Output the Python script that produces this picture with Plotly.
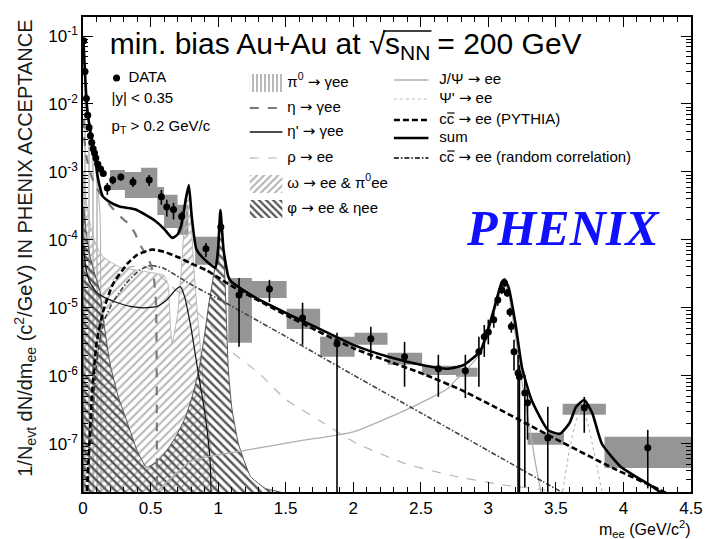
import plotly.graph_objects as go

# ---------------- measured dielectron yield (min. bias Au+Au) ----------------
data_m = [0.005, 0.015, 0.025, 0.035, 0.045, 0.055, 0.065, 0.075, 0.085, 0.095, 0.11, 0.13, 0.15,
          0.18, 0.22, 0.28, 0.37, 0.49, 0.58, 0.62, 0.67, 0.73, 0.91, 1.02,
          1.155, 1.38, 1.625, 1.88, 2.13, 2.38, 2.63, 2.83,
          2.93, 2.97, 3.00, 3.04, 3.07, 3.10, 3.12, 3.14, 3.16, 3.17, 3.19,
          3.22, 3.23, 3.27, 3.29, 3.44, 3.71, 4.18]
data_y = [0.085, 0.030, 0.012, 0.0068, 0.0045, 0.0034, 0.0027, 0.0022, 0.0019, 0.0016, 0.0013, 0.0011, 0.00095,
          5.8e-4, 7.6e-4, 8.4e-4, 7.1e-4, 7.6e-4, 4.3e-4, 3.05e-4, 2.8e-4, 2.2e-4, 7.4e-5, 1.55e-4,
          1.55e-5, 1.9e-5, 7.1e-6, 2.96e-6, 3.5e-6, 1.9e-6, 1.27e-6, 1.19e-6,
          2.25e-6, 3.75e-6, 4.4e-6, 6.7e-6, 1.3e-5, 1.84e-5, 2.33e-5, 1.66e-5, 8.7e-6, 5.3e-6, 2.25e-6,
          1.1e-6, 9.7e-7, 5.6e-7, 4.0e-7, 1.22e-7, 3.4e-7, 8.7e-8]
data_lo = [0.080, 0.028, 0.0112, 0.0064, 0.0042, 0.0032, 0.0025, 0.0020, 0.0017, 0.00145, 0.00118, 0.00098, 0.00085,
           4.6e-4, 6.6e-4, 7.4e-4, 6.0e-4, 6.2e-4, 3.3e-4, 2.2e-4, 2.0e-4, 1.7e-4, 5.6e-5, 1.35e-4,
           2.67e-6, 1.22e-5, 2.86e-6, 1e-9, 1.72e-6, 6.9e-7, 4.9e-7, 4.7e-7,
           6.9e-7, 1.9e-6, 2.9e-6, 5.1e-6, 1.07e-5, 1.6e-5, 2.05e-5, 1.45e-5, 7.4e-6, 4.3e-6, 1.2e-6,
           1e-9, 1e-9, 2.3e-8, 1.15e-7, 1e-9, 1.45e-7, 2.2e-8]
data_hi = [0.090, 0.032, 0.0128, 0.0072, 0.0048, 0.0036, 0.0029, 0.0024, 0.0021, 0.00175, 0.00142, 0.00122, 0.00105,
           6.9e-4, 8.6e-4, 9.5e-4, 8.4e-4, 9.0e-4, 5.4e-4, 3.9e-4, 3.5e-4, 2.6e-4, 9.0e-5, 1.75e-4,
           2.76e-5, 2.58e-5, 1.19e-5, 4.3e-6, 5.26e-6, 3.16e-6, 2.04e-6, 2.04e-6,
           3.75e-6, 5.6e-6, 6.7e-6, 8.5e-6, 1.55e-5, 2.1e-5, 2.6e-5, 1.9e-5, 1.0e-5, 6.3e-6, 3.4e-6,
           2.04e-6, 1.44e-6, 1.03e-6, 6.3e-7, 3.5e-7, 4.9e-7, 1.6e-7]

# systematic uncertainty boxes
sys_x0 = [0.20, 0.31, 0.43, 0.55, 0.60, 0.70, 0.83, 1.075, 1.25, 1.507, 1.755, 2.01, 2.254, 2.51, 2.76, 3.29, 3.55, 3.86]
sys_x1 = [0.31, 0.43, 0.55, 0.60, 0.70, 0.78, 1.01, 1.25, 1.507, 1.755, 2.01, 2.254, 2.51, 2.76, 2.92, 3.56, 3.87, 4.5]
sys_lo = [5.43e-4, 4.15e-4, 4.15e-4, 2.33e-4, 1.5e-4, 1.19e-4, 4.29e-5, 3.06e-6, 1.4e-5, 4.9e-6, 1.9e-6,
          2.86e-6, 1.45e-6, 1.03e-6, 9.7e-7, 9.7e-8, 2.67e-7, 4.4e-8]
sys_hi = [1.07e-3, 1.0e-3, 1.15e-3, 6.0e-4, 4.6e-4, 3.3e-4, 1.11e-4, 2.76e-5, 2.49e-5, 9.66e-6, 3.75e-6,
          4.29e-6, 2.18e-6, 1.40e-6, 1.31e-6, 1.45e-7, 3.87e-7, 1.27e-7]

# ---------------- hadronic cocktail components ----------------
pi0_m = [0.0, 0.005, 0.015, 0.025, 0.035, 0.05, 0.07, 0.09, 0.11, 0.125, 0.13, 0.135]
pi0_y = [0.09, 0.08, 0.028, 0.011, 0.006, 0.0035, 0.002, 0.0012, 6e-4, 2.5e-4, 1e-4, 1e-9]

eta_m = [0.005, 0.01, 0.03, 0.06, 0.1, 0.15, 0.22, 0.3, 0.34, 0.38, 0.43, 0.49, 0.52, 0.54, 0.547]
eta_y = [6e-3, 3e-3, 1.5e-3, 9e-4, 5.8e-4, 4.2e-4, 2.9e-4, 2e-4, 1.7e-4, 1.3e-4, 8e-5, 5e-5, 3.2e-5, 1.2e-5, 1e-9]

etap_m = [0.005, 0.02, 0.05, 0.1, 0.15, 0.25, 0.35, 0.45, 0.55, 0.62, 0.68, 0.72, 0.75, 0.8, 0.85, 0.9, 0.94, 0.958]
etap_y = [8e-5, 4e-5, 2.4e-5, 1.7e-5, 1.45e-5, 1.2e-5, 1.05e-5, 1.0e-5, 1.05e-5, 1.3e-5, 1.8e-5, 2.05e-5,
          1.5e-5, 5e-6, 1.2e-6, 3e-7, 6e-8, 1e-9]

rho_m = [0.15, 0.25, 0.35, 0.44, 0.55, 0.64, 0.74, 0.83, 0.98, 1.075, 1.3, 1.5, 1.75, 2.03, 2.4, 2.76, 3.1, 3.42]
rho_y = [1.5e-5, 3e-5, 4e-5, 4.2e-5, 3.2e-5, 2.2e-5, 1.5e-5, 9.3e-6, 4.6e-6, 2.5e-6, 1.1e-6, 4.5e-7, 2.2e-7,
         1.0e-7, 5e-8, 3.3e-8, 2.5e-8, 2.1e-8]

omega_m = [0.005, 0.01, 0.03, 0.06, 0.1, 0.15, 0.27, 0.47, 0.6, 0.63, 0.648, 0.66, 0.7, 0.724, 0.745, 0.76,
           0.775, 0.783, 0.79, 0.805, 0.82, 0.84, 0.87, 0.9, 0.95, 1.0]
omega_y = [1e-3, 6e-4, 3e-4, 1.5e-4, 8e-5, 5.6e-5, 4e-5, 3.4e-5, 3.0e-5, 2.2e-5, 5e-6, 3e-6, 8e-6, 3e-5, 1.2e-4,
           2.8e-4, 4.8e-4, 5.5e-4, 4e-4, 1.3e-4, 4e-5, 1.2e-5, 2.5e-6, 5e-7, 8e-8, 1.5e-8]

phi_m = [0.005, 0.02, 0.05, 0.09, 0.124, 0.16, 0.2, 0.26, 0.33, 0.4, 0.47, 0.55, 0.62, 0.69, 0.76, 0.82, 0.86,
         0.9, 0.93, 0.96, 0.99, 1.005, 1.017, 1.03, 1.045, 1.06, 1.075, 1.1, 1.15, 1.24, 1.35, 1.5, 1.6]
phi_y = [3e-4, 1.5e-4, 6e-5, 3e-5, 1.8e-5, 5e-6, 1.5e-6, 5e-7, 2e-7, 8e-8, 4.5e-8, 5.5e-8, 8e-8, 1.3e-7, 2.5e-7,
         6e-7, 1.3e-6, 4e-6, 1.1e-5, 2.5e-5, 6e-5, 1.4e-4, 2.4e-4, 1.5e-4, 5e-5, 8e-6, 1.3e-6, 3.5e-7, 1e-7,
         3.3e-8, 2.2e-8, 1.8e-8, 1e-9]

jpsi_m = [0.55, 0.8, 1.2, 1.6, 2.0, 2.4, 2.7, 2.76, 2.85, 2.95, 3.0, 3.05, 3.1, 3.12, 3.15, 3.2, 3.25, 3.3, 3.35, 3.4]
jpsi_y = [2e-8, 5.5e-8, 8e-8, 1.1e-7, 1.5e-7, 3.2e-7, 6.5e-7, 8.7e-7, 1.3e-6, 2.3e-6, 4.2e-6, 9.5e-6, 2.0e-5,
          2.2e-5, 1.6e-5, 4e-6, 8e-7, 2e-7, 5e-8, 1.5e-8]

psi2_m = [3.55, 3.6, 3.65, 3.69, 3.73, 3.78, 3.84]
psi2_y = [2e-8, 8e-8, 2.2e-7, 3.3e-7, 2.2e-7, 8e-8, 2e-8]

ccp_m = [0.03, 0.066, 0.1, 0.15, 0.22, 0.33, 0.4, 0.51, 0.6, 0.71, 0.8, 0.91, 1.0, 1.1, 1.53, 2.01, 2.5, 2.79,
         3.0, 3.49, 3.93, 4.27, 4.5]
ccp_y = [2e-8, 5e-7, 3e-6, 9e-6, 2.2e-5, 4.5e-5, 6e-5, 7.2e-5, 6.7e-5, 5.5e-5, 4.5e-5, 3.6e-5, 2.8e-5, 2.1e-5,
         7.3e-6, 2.5e-6, 1.1e-6, 6.3e-7, 3.9e-7, 1.2e-7, 4.3e-8, 2.1e-8, 1.2e-8]

ccr_m = [0.06, 0.1, 0.15, 0.22, 0.32, 0.42, 0.5, 0.6, 0.8, 1.04, 1.5, 2.0, 2.5, 3.0, 3.4, 3.7]
ccr_y = [1e-7, 1.5e-6, 6e-6, 1.2e-5, 2.3e-5, 3.6e-5, 4.2e-5, 3.8e-5, 2.2e-5, 1.23e-5, 3.8e-6, 1.03e-6, 2.85e-7,
         7.9e-8, 2.8e-8, 1.3e-8]

sum_m = [0.003, 0.01, 0.02, 0.03, 0.05, 0.07, 0.09, 0.11, 0.13, 0.146, 0.2, 0.27, 0.39, 0.54, 0.6, 0.66, 0.7,
         0.724, 0.745, 0.76, 0.783, 0.805, 0.84, 0.907, 0.98, 1.0, 1.017, 1.04, 1.075, 1.1, 1.28, 1.53, 1.77,
         2.01, 2.26, 2.5, 2.7, 2.82, 2.94, 3.0, 3.05, 3.1, 3.12, 3.15, 3.2, 3.25, 3.32, 3.44, 3.53, 3.6, 3.65,
         3.71, 3.77, 3.84, 3.98, 4.22, 4.35]
sum_y = [0.09, 0.045, 0.018, 0.009, 0.0045, 0.0026, 0.0016, 8.2e-4, 5.5e-4, 4.4e-4, 3.6e-4, 3.1e-4, 2.8e-4,
         1.87e-4, 1.45e-4, 1.07e-4, 1.2e-4, 1.55e-4, 2.5e-4, 3.9e-4, 6.4e-4, 2.2e-4, 7.2e-5, 5e-5, 3.9e-5,
         7.2e-5, 2.75e-4, 7.2e-5, 2.9e-5, 2.4e-5, 1.4e-5, 7.9e-6, 4.7e-6, 2.8e-6, 1.9e-6, 1.45e-6, 1.27e-6,
         1.45e-6, 2.3e-6, 5e-6, 1.1e-5, 2.4e-5, 2.6e-5, 2e-5, 6e-6, 1.3e-6, 4.4e-7, 1.6e-7, 1.4e-7, 2e-7,
         3.5e-7, 4.4e-7, 2.8e-7, 1.0e-7, 4.6e-8, 2.3e-8, 1.5e-8]

y_ticks = [-7, -6, -5, -4, -3, -2, -1]

FONT = "Liberation Sans, Arial, sans-serif"
FLOOR = 1e-9

# plot-area geometry (pixels in the 715 x 539 page)
W, H = 715, 539
L, R, T, B = 83, 699, 17, 492


def fx(p):
    return (p - L) / (R - L)


def fy(p):
    return (B - p) / (B - T)


def band(ms, ys):
    """closed polygon from the axis floor up to a curve"""
    return [ms[0]] + list(ms) + [ms[-1]], [FLOOR] + list(ys) + [FLOOR]


fig = go.Figure()

# systematic boxes
bx, by = [], []
for a, b, lo, hi in zip(sys_x0, sys_x1, sys_lo, sys_hi):
    bx += [a, b, b, a, a, None]
    by += [lo, lo, hi, hi, lo, None]
fig.add_trace(go.Scatter(x=bx, y=by, mode="lines", fill="toself", fillcolor="#959595",
                         line=dict(width=0, color="#959595"), hoverinfo="skip", showlegend=False))


def hatch(ms, ys, shape, color, size=6, sol=0.3):
    x, y = band(ms, ys)
    fig.add_trace(go.Scatter(
        x=x, y=y, mode="lines", fill="toself", fillcolor="rgba(0,0,0,0)",
        fillpattern=dict(shape=shape, fgcolor=color, bgcolor="rgba(0,0,0,0)", size=size,
                         solidity=sol, fillmode="replace"),
        line=dict(color=color, width=1, shape="spline", smoothing=0.4),
        hoverinfo="skip", showlegend=False))


hatch(pi0_m, pi0_y, "|", "#b0b0b0", size=4, sol=0.35)
hatch(omega_m, omega_y, "/", "#b8b8b8", size=6, sol=0.35)
hatch(phi_m, phi_y, "\\", "#555555", size=6, sol=0.4)


def curve(ms, ys, color, width, dash="solid"):
    fig.add_trace(go.Scatter(x=ms, y=ys, mode="lines",
                             line=dict(color=color, width=width, dash=dash, shape="spline", smoothing=0.5),
                             hoverinfo="skip", showlegend=False))


DASHDOT = "5px,2px,1.5px,2px"
CCDASH = "6px,3px"
curve(rho_m, rho_y, "#b5b5b5", 1.2, "dash")
curve(eta_m, eta_y, "#7a7a7a", 2.2, "dash")
curve(etap_m, etap_y, "#111111", 1.2)
curve(jpsi_m, jpsi_y, "#b0b0b0", 1.3)
curve(psi2_m, psi2_y, "#bdbdbd", 1.2, "dot")
curve(ccr_m, ccr_y, "#444444", 1.6, DASHDOT)
curve(ccp_m, ccp_y, "#000000", 2.6, CCDASH)
curve(sum_m, sum_y, "#000000", 2.6)

# data points with statistical errors
fig.add_trace(go.Scatter(
    x=data_m, y=data_y, mode="markers",
    marker=dict(color="black", size=7, symbol="circle"),
    error_y=dict(type="data", symmetric=False,
                 array=[h - v for h, v in zip(data_hi, data_y)],
                 arrayminus=[v - l for v, l in zip(data_y, data_lo)],
                 color="black", thickness=1.6, width=0),
    hoverinfo="skip", showlegend=False))


# ---------------- key (drawn on an overlay axis spanning the frame) ----------------
def swatch_box(x0, x1, y0, y1, shape, color, size=5, sol=0.35):
    fig.add_trace(go.Scatter(
        x=[fx(x0), fx(x1), fx(x1), fx(x0), fx(x0)], y=[fy(y1), fy(y1), fy(y0), fy(y0), fy(y1)],
        xaxis="x2", yaxis="y2", mode="lines", fill="toself", fillcolor="rgba(0,0,0,0)",
        fillpattern=dict(shape=shape, fgcolor=color, bgcolor="rgba(0,0,0,0)", size=size,
                         solidity=sol, fillmode="replace"),
        line=dict(width=0, color=color), hoverinfo="skip", showlegend=False))


swatch_box(252, 285, 74, 92, "|", "#a8a8a8", size=4, sol=0.4)
swatch_box(252, 285, 175, 193, "/", "#b0b0b0", size=5, sol=0.4)
swatch_box(252, 285, 200, 218, "\\", "#555555", size=5, sol=0.45)

fig.add_trace(go.Scatter(x=[fx(117)], y=[fy(78)], xaxis="x2", yaxis="y2", mode="markers",
                         marker=dict(color="black", size=7), hoverinfo="skip", showlegend=False))

shapes = []


def hline(x0, x1, yc, color, width, dash="solid"):
    shapes.append(dict(type="line", xref="paper", yref="paper", x0=fx(x0), x1=fx(x1), y0=fy(yc), y1=fy(yc),
                       line=dict(color=color, width=width, dash=dash)))


hline(252, 285, 108, "#7a7a7a", 2.2, "dash")
hline(252, 285, 132, "#111111", 1.4)
hline(252, 285, 158, "#b5b5b5", 1.2, "dash")
hline(398, 433, 80, "#b0b0b0", 1.3)
hline(398, 433, 99, "#bdbdbd", 1.2, "dot")
hline(398, 433, 120, "#000000", 2.6, CCDASH)
hline(398, 433, 138, "#000000", 2.6)
hline(398, 433, 158, "#000000", 1.6, DASHDOT)


def text_column(x, ys, texts, size=15, color="black", family=FONT):
    # left-aligned text placed at (x, y) page pixels
    fig.add_trace(go.Scatter(
        x=[fx(x)] * len(ys), y=[fy(v) for v in ys], text=texts, mode="text",
        textposition="middle right", textfont=dict(family=family, size=size, color=color),
        xaxis="x2", yaxis="y2", cliponaxis=False, hoverinfo="skip", showlegend=False))


ARROW = "<span style='font-family:DejaVu Sans'>→</span>"
col1 = ["π<sup>0</sup> %s γee" % ARROW, "η %s γee" % ARROW, "η' %s γee" % ARROW, "ρ %s ee" % ARROW,
        "ω %s ee & π<sup>0</sup>ee" % ARROW, "φ %s ee & ηee" % ARROW]
col1_y = [83, 108, 132, 158, 184, 209]
text_column(290, col1_y, col1)

col2 = ["J/Ψ %s ee" % ARROW, "Ψ' %s ee" % ARROW, "cc %s ee (PYTHIA)" % ARROW, "sum",
        "cc %s ee (random correlation)" % ARROW]
col2_y = [80, 99, 120, 138, 158]
text_column(444, col2_y, col2)
# bar over the anti-charm quark
for yy in (120, 158):
    hline(452, 459.5, yy - 7, "black", 1.2)

text_column(129, [78], ["DATA"])
text_column(112, [99, 127], ["|y| < 0.35", "p<sub>T</sub> > 0.2 GeV/c"])

# header: energy written as √s_NN with a bar over s_NN
text_column(110, [46], ["min. bias Au+Au at √"], size=30)
text_column(389, [46], ["s<sub>NN</sub>"], size=30)
text_column(442, [46], ["= 200 GeV"], size=30)
hline(387, 436, 31, "black", 1.6)

text_column(472, [232], ["<b><i>PHENIX</i></b>"], size=50, color="#1010ff",
            family="Liberation Serif, Times New Roman, serif")

annotations = [
    dict(xref="paper", yref="paper", x=fx(701), y=fy(529), showarrow=False,
         text="m<sub>ee</sub> (GeV/c<sup>2</sup>)", xanchor="right", yanchor="middle",
         font=dict(family=FONT, size=16, color="black")),
    dict(xref="paper", yref="paper", x=fx(24), y=fy(248), showarrow=False, textangle=-90,
         text="1/N<sub>evt</sub> dN/dm<sub>ee</sub> (c<sup>2</sup>/GeV) IN PHENIX ACCEPTANCE",
         xanchor="center", yanchor="middle", font=dict(family=FONT, size=20, color="#1a1a1a")),
]

axis_common = dict(showline=True, linecolor="black", linewidth=1.5, mirror="allticks", ticks="inside",
                   showgrid=False, zeroline=False, tickcolor="black",
                   tickfont=dict(family=FONT, size=17, color="black"))

fig.update_layout(
    width=W, height=H, margin=dict(l=L, r=W - R, t=T, b=H - B),
    paper_bgcolor="white", plot_bgcolor="white", showlegend=False,
    xaxis=dict(range=[0, 4.5], dtick=0.5, ticklen=10, tickwidth=1.2,
               minor=dict(dtick=0.1, ticks="inside", ticklen=5, tickcolor="black", tickwidth=1),
               **axis_common),
    yaxis=dict(type="log", range=[-7.71, -0.72], tickvals=[10 ** k for k in y_ticks],
               ticktext=["10<sup>%d</sup>" % k for k in y_ticks], ticklen=10, tickwidth=1.2,
               minor=dict(dtick="D1", ticks="inside", ticklen=5, tickcolor="black", tickwidth=1),
               **axis_common),
    xaxis2=dict(overlaying="x", range=[0, 1], visible=False, anchor="y2"),
    yaxis2=dict(overlaying="y", range=[0, 1], visible=False, anchor="x2"),
    shapes=shapes, annotations=annotations,
)

fig.write_html("out.html")
